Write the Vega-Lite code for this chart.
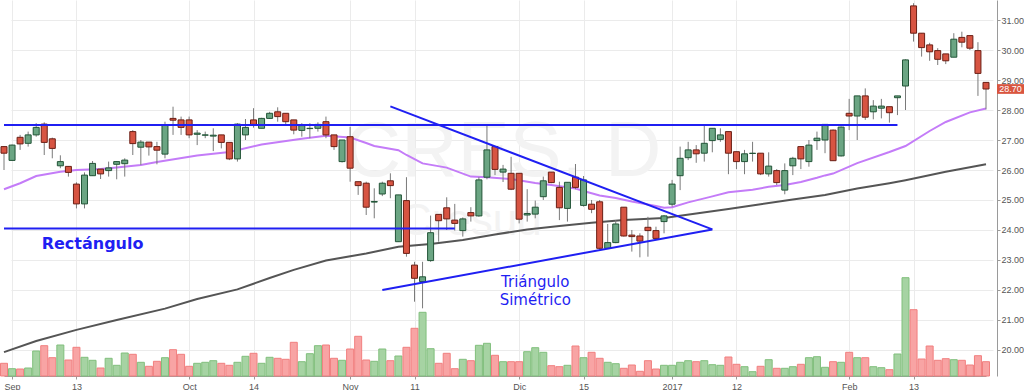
{
  "$schema": "https://vega.github.io/schema/vega-lite/v6.json",
  "width": 997,
  "height": 376,
  "padding": 0,
  "background": "white",
  "config": {"view": {"stroke": null}, "font": "Liberation Sans"},
  "datasets": {
    "ohlc": [
      {"d":"2016-08-31","o":26.78,"h":26.8,"l":26.0,"c":26.56,"v":127},
      {"d":"2016-09-01","o":26.32,"h":26.85,"l":26.3,"c":26.83,"v":73},
      {"d":"2016-09-02","o":27.09,"h":27.17,"l":26.67,"c":26.87,"v":70},
      {"d":"2016-09-05","o":26.89,"h":27.28,"l":26.78,"c":27.17,"v":80},
      {"d":"2016-09-06","o":27.17,"h":27.56,"l":27.11,"c":27.42,"v":250},
      {"d":"2016-09-07","o":27.53,"h":27.59,"l":26.5,"c":26.92,"v":303},
      {"d":"2016-09-08","o":27.04,"h":27.08,"l":26.39,"c":26.72,"v":183},
      {"d":"2016-09-09","o":26.14,"h":26.49,"l":26.06,"c":26.28,"v":310},
      {"d":"2016-09-12","o":26.12,"h":26.13,"l":25.78,"c":25.92,"v":160},
      {"d":"2016-09-13","o":25.53,"h":25.59,"l":24.72,"c":24.87,"v":287},
      {"d":"2016-09-14","o":24.87,"h":25.92,"l":24.72,"c":25.83,"v":187},
      {"d":"2016-09-15","o":25.81,"h":26.3,"l":25.8,"c":26.22,"v":157},
      {"d":"2016-09-16","o":26.03,"h":26.03,"l":25.7,"c":25.87,"v":80},
      {"d":"2016-09-19","o":25.98,"h":26.28,"l":25.78,"c":26.07,"v":177},
      {"d":"2016-09-20","o":26.19,"h":26.3,"l":25.69,"c":26.28,"v":107},
      {"d":"2016-09-21","o":26.21,"h":26.39,"l":25.78,"c":26.33,"v":230},
      {"d":"2016-09-22","o":27.28,"h":27.33,"l":26.5,"c":26.88,"v":217},
      {"d":"2016-09-23","o":26.76,"h":27.0,"l":26.17,"c":26.93,"v":137},
      {"d":"2016-09-26","o":26.93,"h":26.93,"l":26.48,"c":26.77,"v":97},
      {"d":"2016-09-27","o":26.78,"h":26.94,"l":26.19,"c":26.66,"v":147},
      {"d":"2016-09-28","o":26.53,"h":27.61,"l":26.39,"c":27.5,"v":183},
      {"d":"2016-09-29","o":27.72,"h":28.11,"l":27.17,"c":27.66,"v":263},
      {"d":"2016-09-30","o":27.67,"h":27.78,"l":27.17,"c":27.42,"v":217},
      {"d":"2016-10-03","o":27.67,"h":27.78,"l":27.06,"c":27.17,"v":97},
      {"d":"2016-10-04","o":27.19,"h":27.33,"l":26.83,"c":27.23,"v":127},
      {"d":"2016-10-05","o":27.16,"h":27.28,"l":27.06,"c":27.17,"v":137},
      {"d":"2016-10-06","o":27.13,"h":27.39,"l":26.63,"c":27.16,"v":153},
      {"d":"2016-10-07","o":27.17,"h":27.17,"l":26.72,"c":26.92,"v":127},
      {"d":"2016-10-11","o":26.92,"h":26.92,"l":26.33,"c":26.37,"v":107},
      {"d":"2016-10-12","o":26.37,"h":27.56,"l":26.28,"c":27.53,"v":137},
      {"d":"2016-10-13","o":27.17,"h":27.7,"l":27.0,"c":27.42,"v":197},
      {"d":"2016-10-14","o":27.67,"h":28.06,"l":27.41,"c":27.52,"v":227},
      {"d":"2016-10-17","o":27.39,"h":27.74,"l":27.39,"c":27.72,"v":127},
      {"d":"2016-10-18","o":27.72,"h":27.94,"l":27.7,"c":27.89,"v":187},
      {"d":"2016-10-19","o":27.94,"h":28.09,"l":27.61,"c":27.78,"v":177},
      {"d":"2016-10-20","o":27.89,"h":27.89,"l":27.5,"c":27.61,"v":167},
      {"d":"2016-10-21","o":27.67,"h":27.67,"l":27.19,"c":27.33,"v":337},
      {"d":"2016-10-24","o":27.32,"h":27.56,"l":27.11,"c":27.48,"v":143},
      {"d":"2016-10-25","o":27.38,"h":27.56,"l":27.06,"c":27.39,"v":223},
      {"d":"2016-10-26","o":27.39,"h":27.59,"l":27.28,"c":27.52,"v":303},
      {"d":"2016-10-27","o":27.61,"h":27.78,"l":27.06,"c":27.17,"v":310},
      {"d":"2016-10-28","o":27.17,"h":27.17,"l":26.67,"c":26.78,"v":177},
      {"d":"2016-10-31","o":26.28,"h":27.0,"l":26.25,"c":27.0,"v":157},
      {"d":"2016-11-01","o":27.11,"h":27.44,"l":25.61,"c":26.06,"v":270},
      {"d":"2016-11-02","o":25.61,"h":25.61,"l":25.17,"c":25.48,"v":397},
      {"d":"2016-11-03","o":25.56,"h":25.61,"l":24.5,"c":24.76,"v":160},
      {"d":"2016-11-04","o":24.93,"h":25.39,"l":24.39,"c":24.95,"v":147},
      {"d":"2016-11-07","o":25.2,"h":25.61,"l":25.13,"c":25.56,"v":270},
      {"d":"2016-11-08","o":25.64,"h":25.89,"l":25.06,"c":25.48,"v":153},
      {"d":"2016-11-09","o":23.61,"h":25.17,"l":23.6,"c":25.17,"v":200},
      {"d":"2016-11-10","o":24.98,"h":25.76,"l":23.11,"c":23.22,"v":287},
      {"d":"2016-11-11","o":22.83,"h":22.94,"l":21.61,"c":22.39,"v":477},
      {"d":"2016-11-14","o":22.28,"h":22.94,"l":21.39,"c":22.44,"v":637},
      {"d":"2016-11-15","o":22.98,"h":24.48,"l":22.94,"c":23.91,"v":273},
      {"d":"2016-11-16","o":24.52,"h":24.52,"l":23.61,"c":24.31,"v":127},
      {"d":"2016-11-17","o":24.74,"h":25.09,"l":24.0,"c":24.37,"v":227},
      {"d":"2016-11-18","o":24.33,"h":24.87,"l":23.98,"c":24.22,"v":73},
      {"d":"2016-11-21","o":23.98,"h":24.42,"l":23.78,"c":24.37,"v":167},
      {"d":"2016-11-22","o":24.58,"h":24.76,"l":24.28,"c":24.47,"v":153},
      {"d":"2016-11-23","o":24.47,"h":25.76,"l":24.44,"c":25.67,"v":307},
      {"d":"2016-11-24","o":25.76,"h":27.5,"l":25.69,"c":26.67,"v":327},
      {"d":"2016-11-25","o":26.78,"h":26.78,"l":25.83,"c":26.02,"v":207},
      {"d":"2016-11-29","o":25.93,"h":26.17,"l":25.6,"c":26.03,"v":143},
      {"d":"2016-11-30","o":25.89,"h":26.44,"l":25.33,"c":25.36,"v":143},
      {"d":"2016-12-01","o":25.89,"h":25.89,"l":24.22,"c":24.36,"v":143},
      {"d":"2016-12-02","o":24.5,"h":25.36,"l":24.28,"c":24.55,"v":243},
      {"d":"2016-12-05","o":24.53,"h":24.98,"l":24.39,"c":24.76,"v":283},
      {"d":"2016-12-06","o":25.11,"h":25.78,"l":25.0,"c":25.64,"v":237},
      {"d":"2016-12-07","o":25.93,"h":25.93,"l":25.56,"c":25.58,"v":103},
      {"d":"2016-12-12","o":25.42,"h":25.61,"l":24.33,"c":24.74,"v":93},
      {"d":"2016-12-13","o":24.72,"h":25.59,"l":24.28,"c":25.59,"v":107},
      {"d":"2016-12-14","o":25.76,"h":26.2,"l":25.36,"c":25.42,"v":300},
      {"d":"2016-12-15","o":24.82,"h":25.8,"l":24.78,"c":25.67,"v":183},
      {"d":"2016-12-16","o":24.86,"h":25.0,"l":24.56,"c":24.69,"v":237},
      {"d":"2016-12-19","o":24.94,"h":25.0,"l":23.33,"c":23.39,"v":177},
      {"d":"2016-12-20","o":23.39,"h":24.2,"l":23.38,"c":23.58,"v":137},
      {"d":"2016-12-21","o":23.58,"h":24.33,"l":23.56,"c":24.2,"v":123},
      {"d":"2016-12-22","o":24.76,"h":24.76,"l":23.78,"c":23.8,"v":77},
      {"d":"2016-12-23","o":23.83,"h":24.0,"l":23.28,"c":23.78,"v":110},
      {"d":"2016-12-27","o":23.8,"h":23.89,"l":23.09,"c":23.63,"v":47},
      {"d":"2016-12-28","o":24.09,"h":24.44,"l":23.11,"c":23.98,"v":153},
      {"d":"2016-12-29","o":23.98,"h":24.11,"l":23.69,"c":23.72,"v":70},
      {"d":"2016-12-30","o":24.28,"h":24.5,"l":23.89,"c":24.47,"v":107},
      {"d":"2017-01-02","o":24.86,"h":25.67,"l":24.78,"c":25.53,"v":107},
      {"d":"2017-01-03","o":25.81,"h":26.78,"l":25.33,"c":26.39,"v":137},
      {"d":"2017-01-04","o":26.41,"h":26.94,"l":26.33,"c":26.67,"v":153},
      {"d":"2017-01-05","o":26.67,"h":26.83,"l":26.24,"c":26.54,"v":143},
      {"d":"2017-01-06","o":26.56,"h":27.48,"l":26.28,"c":26.89,"v":153},
      {"d":"2017-01-09","o":26.98,"h":27.39,"l":26.59,"c":27.39,"v":113},
      {"d":"2017-01-10","o":27.02,"h":27.39,"l":26.94,"c":27.17,"v":107},
      {"d":"2017-01-11","o":27.28,"h":27.28,"l":25.86,"c":26.56,"v":190},
      {"d":"2017-01-12","o":26.61,"h":26.61,"l":26.03,"c":26.28,"v":117},
      {"d":"2017-01-13","o":26.28,"h":26.67,"l":25.86,"c":26.54,"v":93},
      {"d":"2017-01-16","o":26.55,"h":26.94,"l":26.28,"c":26.56,"v":43},
      {"d":"2017-01-17","o":26.56,"h":26.56,"l":25.83,"c":25.87,"v":97},
      {"d":"2017-01-18","o":25.87,"h":26.59,"l":25.78,"c":26.13,"v":163},
      {"d":"2017-01-19","o":25.98,"h":26.03,"l":25.5,"c":25.58,"v":77},
      {"d":"2017-01-20","o":25.33,"h":26.22,"l":25.19,"c":25.98,"v":77},
      {"d":"2017-01-23","o":26.14,"h":26.44,"l":25.83,"c":26.39,"v":93},
      {"d":"2017-01-24","o":26.78,"h":26.78,"l":26.03,"c":26.37,"v":117},
      {"d":"2017-01-25","o":26.28,"h":27.0,"l":26.11,"c":26.83,"v":183},
      {"d":"2017-01-26","o":26.98,"h":27.28,"l":26.67,"c":27.06,"v":193},
      {"d":"2017-01-27","o":27.0,"h":27.52,"l":26.56,"c":27.52,"v":87},
      {"d":"2017-01-30","o":27.33,"h":27.35,"l":26.3,"c":26.31,"v":143},
      {"d":"2017-01-31","o":26.47,"h":27.45,"l":26.45,"c":27.43,"v":137},
      {"d":"2017-02-01","o":27.89,"h":28.37,"l":27.33,"c":27.8,"v":237},
      {"d":"2017-02-02","o":27.8,"h":28.47,"l":27.0,"c":28.47,"v":183},
      {"d":"2017-02-03","o":28.47,"h":28.72,"l":27.67,"c":27.76,"v":183},
      {"d":"2017-02-06","o":27.94,"h":28.33,"l":27.69,"c":28.13,"v":93},
      {"d":"2017-02-07","o":28.06,"h":28.37,"l":27.72,"c":28.13,"v":83},
      {"d":"2017-02-08","o":28.11,"h":28.11,"l":27.58,"c":27.91,"v":63},
      {"d":"2017-02-09","o":28.41,"h":28.47,"l":27.83,"c":28.47,"v":220},
      {"d":"2017-02-10","o":28.8,"h":29.69,"l":28.0,"c":29.67,"v":983},
      {"d":"2017-02-13","o":31.47,"h":31.56,"l":30.28,"c":30.56,"v":663},
      {"d":"2017-02-14","o":30.56,"h":30.56,"l":29.78,"c":30.08,"v":170},
      {"d":"2017-02-15","o":30.17,"h":30.24,"l":29.64,"c":29.94,"v":300},
      {"d":"2017-02-16","o":29.98,"h":30.06,"l":29.5,"c":29.69,"v":157},
      {"d":"2017-02-17","o":29.87,"h":29.87,"l":29.53,"c":29.64,"v":173},
      {"d":"2017-02-20","o":29.76,"h":30.56,"l":29.76,"c":30.36,"v":163},
      {"d":"2017-02-21","o":30.42,"h":30.61,"l":30.09,"c":30.26,"v":157},
      {"d":"2017-02-22","o":30.48,"h":30.48,"l":30.0,"c":30.06,"v":110},
      {"d":"2017-02-23","o":29.98,"h":30.26,"l":28.47,"c":29.22,"v":203},
      {"d":"2017-02-24","o":28.92,"h":28.92,"l":28.02,"c":28.7,"v":143}
    ],
    "sma20": [
      {"d":"2016-08-31","m":25.36},{"d":"2016-09-02","m":25.56},{"d":"2016-09-06","m":25.8},
      {"d":"2016-09-09","m":25.94},{"d":"2016-09-13","m":26.0},{"d":"2016-09-16","m":26.03},
      {"d":"2016-09-20","m":26.08},{"d":"2016-09-23","m":26.17},{"d":"2016-09-27","m":26.27},
      {"d":"2016-10-04","m":26.48},{"d":"2016-10-11","m":26.6},{"d":"2016-10-17","m":26.85},
      {"d":"2016-10-24","m":27.04},{"d":"2016-10-27","m":27.14},{"d":"2016-11-01","m":27.08},
      {"d":"2016-11-03","m":26.9},{"d":"2016-11-04","m":26.8},{"d":"2016-11-09","m":26.66},
      {"d":"2016-11-10","m":26.5},{"d":"2016-11-14","m":26.22},{"d":"2016-11-17","m":26.08},
      {"d":"2016-11-22","m":25.78},{"d":"2016-11-24","m":25.76},{"d":"2016-11-30","m":25.7},
      {"d":"2016-12-05","m":25.57},{"d":"2016-12-07","m":25.5},{"d":"2016-12-14","m":25.38},
      {"d":"2016-12-15","m":25.3},{"d":"2016-12-19","m":25.15},{"d":"2016-12-21","m":25.07},
      {"d":"2016-12-23","m":24.95},{"d":"2016-12-29","m":24.8},{"d":"2016-12-30","m":24.74},
      {"d":"2017-01-02","m":24.76},{"d":"2017-01-04","m":24.92},{"d":"2017-01-09","m":25.12},
      {"d":"2017-01-11","m":25.26},{"d":"2017-01-16","m":25.34},{"d":"2017-01-18","m":25.44},
      {"d":"2017-01-20","m":25.5},{"d":"2017-01-24","m":25.6},{"d":"2017-01-26","m":25.74},
      {"d":"2017-01-27","m":25.82},{"d":"2017-01-30","m":25.88},{"d":"2017-02-02","m":26.23},
      {"d":"2017-02-08","m":26.6},{"d":"2017-02-10","m":26.8},{"d":"2017-02-15","m":27.3},
      {"d":"2017-02-17","m":27.6},{"d":"2017-02-22","m":27.92},{"d":"2017-02-24","m":28.05}
    ],
    "sma200": [
      {"d":"2016-08-31","m":19.93},{"d":"2016-09-06","m":20.3},{"d":"2016-09-13","m":20.67},
      {"d":"2016-09-20","m":21.0},{"d":"2016-09-28","m":21.38},{"d":"2016-10-04","m":21.7},
      {"d":"2016-10-12","m":22.02},{"d":"2016-10-18","m":22.4},{"d":"2016-10-21","m":22.67},
      {"d":"2016-10-27","m":22.98},{"d":"2016-11-03","m":23.22},{"d":"2016-11-09","m":23.44},
      {"d":"2016-11-15","m":23.53},{"d":"2016-11-21","m":23.67},{"d":"2016-11-25","m":23.85},
      {"d":"2016-12-02","m":24.02},{"d":"2016-12-12","m":24.13},{"d":"2016-12-16","m":24.24},
      {"d":"2016-12-22","m":24.33},{"d":"2016-12-30","m":24.4},{"d":"2017-01-05","m":24.55},
      {"d":"2017-01-11","m":24.7},{"d":"2017-01-17","m":24.86},{"d":"2017-01-23","m":25.02},
      {"d":"2017-01-27","m":25.17},{"d":"2017-02-02","m":25.38},{"d":"2017-02-08","m":25.56},
      {"d":"2017-02-10","m":25.66},{"d":"2017-02-17","m":25.94},{"d":"2017-02-24","m":26.19}
    ],
    "lines": [
      {"d1":"2016-08-31","d2":"2017-02-09","p1":27.5,"p2":27.5},
      {"d1":"2016-08-31","d2":"2016-11-18","p1":24.05,"p2":24.05},
      {"d1":"2016-11-08","d2":"2017-01-09","p1":28.12,"p2":24.02},
      {"d1":"2016-11-07","d2":"2017-01-09","p1":22.0,"p2":24.02}
    ]
  },
  "resolve": {"scale": {"y": "independent"}},
  "layer": [
    {
      "data": {"name": "ohlc"},
      "mark": {"type": "bar", "width": 7, "strokeWidth": 1},
      "encoding": {
        "x": {
          "field": "d", "type": "ordinal", "title": null,
          "scale": {"type": "point", "range": [4, 986], "padding": 0},
          "axis": {
            "title": null,
            "values": ["2016-09-01","2016-09-13","2016-10-03","2016-10-14","2016-11-01","2016-11-11","2016-12-01","2016-12-15","2017-01-02","2017-01-12","2017-02-01","2017-02-13"],
            "labelExpr": "datum.value == '2017-01-02' ? '2017' : (slice(datum.value, 8) <= '03' ? ['Ene','Feb','Mar','Abr','May','Jun','Jul','Ago','Sep','Oct','Nov','Dic'][toNumber(slice(datum.value, 5, 7)) - 1] : toString(toNumber(slice(datum.value, 8))))",
            "labelAngle": 0,
            "grid": true, "gridColor": "#ebebeb",
            "domainColor": "#9a9a9a", "tickColor": "#9a9a9a", "tickSize": 3,
            "labelColor": "#555555", "labelFontSize": 9, "labelPadding": 3
          }
        },
        "y": {"field": "v", "type": "quantitative", "scale": {"domain": [0, 3760], "nice": false, "zero": true}, "axis": null},
        "fill": {"condition": {"test": "datum.c >= datum.o", "value": "#a6d3a3"}, "value": "#f8a4a4"},
        "stroke": {"condition": {"test": "datum.c >= datum.o", "value": "#80bf7c"}, "value": "#f17f7f"}
      }
    },
    {
      "layer": [
        {
          "data": {"values": [{"d": "2016-11-29", "p": 26.57, "t": "CRES, D"}]},
          "mark": {"type": "text", "fontSize": 78, "color": "#f3f3f3", "align": "center", "baseline": "middle"},
          "encoding": {
            "x": {"field": "d", "type": "ordinal", "title": null},
            "y": {"field": "p", "type": "quantitative", "title": null, "scale": {"domain": [19.1333, 31.6667], "nice": false, "zero": false},
              "axis": {"orient": "right", "title": null, "values": [20,21,22,23,24,25,26,27,28,29,30,31], "format": ".2f", "grid": true, "gridColor": "#ebebeb", "domainColor": "#9a9a9a", "tickColor": "#9a9a9a", "tickSize": 3, "labelColor": "#555555", "labelFontSize": 9, "labelPadding": 1}},
            "text": {"field": "t"}
          }
        },
        {
          "data": {"values": [{"d": "2016-11-22", "p": 24.27, "t": "Cresud"}]},
          "mark": {"type": "text", "fontSize": 44, "color": "#f3f3f3", "align": "center", "baseline": "middle"},
          "encoding": {
            "x": {"field": "d", "type": "ordinal", "title": null},
            "y": {"field": "p", "type": "quantitative", "title": null, "scale": {"domain": [19.1333, 31.6667], "nice": false, "zero": false},
              "axis": {"orient": "right", "title": null, "values": [20,21,22,23,24,25,26,27,28,29,30,31], "format": ".2f", "grid": true, "gridColor": "#ebebeb", "domainColor": "#9a9a9a", "tickColor": "#9a9a9a", "tickSize": 3, "labelColor": "#555555", "labelFontSize": 9, "labelPadding": 1}},
            "text": {"field": "t"}
          }
        },
        {
          "data": {"name": "sma200"},
          "mark": {"type": "line", "color": "#555555", "strokeWidth": 2},
          "encoding": {
            "x": {"field": "d", "type": "ordinal", "title": null},
            "y": {"field": "m", "type": "quantitative", "title": null, "scale": {"domain": [19.1333, 31.6667], "nice": false, "zero": false},
              "axis": {"orient": "right", "title": null, "values": [20,21,22,23,24,25,26,27,28,29,30,31], "format": ".2f", "grid": true, "gridColor": "#ebebeb", "domainColor": "#9a9a9a", "tickColor": "#9a9a9a", "tickSize": 3, "labelColor": "#555555", "labelFontSize": 9, "labelPadding": 1}}
          }
        },
        {
          "data": {"name": "sma20"},
          "mark": {"type": "line", "color": "#c47cf8", "strokeWidth": 2},
          "encoding": {
            "x": {"field": "d", "type": "ordinal", "title": null},
            "y": {"field": "m", "type": "quantitative", "title": null, "scale": {"domain": [19.1333, 31.6667], "nice": false, "zero": false},
              "axis": {"orient": "right", "title": null, "values": [20,21,22,23,24,25,26,27,28,29,30,31], "format": ".2f", "grid": true, "gridColor": "#ebebeb", "domainColor": "#9a9a9a", "tickColor": "#9a9a9a", "tickSize": 3, "labelColor": "#555555", "labelFontSize": 9, "labelPadding": 1}}
          }
        },
        {
          "data": {"name": "ohlc"},
          "mark": {"type": "rule", "color": "#7a7a7a", "strokeWidth": 1},
          "encoding": {
            "x": {"field": "d", "type": "ordinal", "title": null},
            "y": {"field": "l", "type": "quantitative", "title": null, "scale": {"domain": [19.1333, 31.6667], "nice": false, "zero": false},
              "axis": {"orient": "right", "title": null, "values": [20,21,22,23,24,25,26,27,28,29,30,31], "format": ".2f", "grid": true, "gridColor": "#ebebeb", "domainColor": "#9a9a9a", "tickColor": "#9a9a9a", "tickSize": 3, "labelColor": "#555555", "labelFontSize": 9, "labelPadding": 1}},
            "y2": {"field": "h"}
          }
        },
        {
          "data": {"name": "ohlc"},
          "mark": {"type": "bar", "width": 6, "strokeWidth": 1},
          "encoding": {
            "x": {"field": "d", "type": "ordinal", "title": null},
            "y": {"field": "o", "type": "quantitative", "title": null, "scale": {"domain": [19.1333, 31.6667], "nice": false, "zero": false},
              "axis": {"orient": "right", "title": null, "values": [20,21,22,23,24,25,26,27,28,29,30,31], "format": ".2f", "grid": true, "gridColor": "#ebebeb", "domainColor": "#9a9a9a", "tickColor": "#9a9a9a", "tickSize": 3, "labelColor": "#555555", "labelFontSize": 9, "labelPadding": 1}},
            "y2": {"field": "c"},
            "fill": {"condition": {"test": "datum.c >= datum.o", "value": "#6ba583"}, "value": "#d75442"},
            "stroke": {"condition": {"test": "datum.c >= datum.o", "value": "#225437"}, "value": "#6b1f15"}
          }
        },
        {
          "data": {"name": "lines"},
          "mark": {"type": "rule", "color": "#1f1ff2", "strokeWidth": 2},
          "encoding": {
            "x": {"field": "d1", "type": "ordinal", "title": null},
            "x2": {"field": "d2"},
            "y": {"field": "p1", "type": "quantitative", "title": null, "scale": {"domain": [19.1333, 31.6667], "nice": false, "zero": false},
              "axis": {"orient": "right", "title": null, "values": [20,21,22,23,24,25,26,27,28,29,30,31], "format": ".2f", "grid": true, "gridColor": "#ebebeb", "domainColor": "#9a9a9a", "tickColor": "#9a9a9a", "tickSize": 3, "labelColor": "#555555", "labelFontSize": 9, "labelPadding": 1}},
            "y2": {"field": "p2"}
          }
        },
        {
          "data": {"values": [{"d": "2016-09-15", "p": 23.53, "t": "Rectángulo"}]},
          "mark": {"type": "text", "font": "DejaVu Sans", "fontSize": 16, "fontWeight": "bold", "color": "#1f1ff2", "align": "center", "baseline": "middle"},
          "encoding": {
            "x": {"field": "d", "type": "ordinal", "title": null},
            "y": {"field": "p", "type": "quantitative", "title": null, "scale": {"domain": [19.1333, 31.6667], "nice": false, "zero": false},
              "axis": {"orient": "right", "title": null, "values": [20,21,22,23,24,25,26,27,28,29,30,31], "format": ".2f", "grid": true, "gridColor": "#ebebeb", "domainColor": "#9a9a9a", "tickColor": "#9a9a9a", "tickSize": 3, "labelColor": "#555555", "labelFontSize": 9, "labelPadding": 1}},
            "text": {"field": "t"}
          }
        },
        {
          "data": {"values": [{"d": "2016-12-05", "p": 22.25, "t": "Triángulo"}, {"d": "2016-12-05", "p": 21.66, "t": "Simétrico"}]},
          "mark": {"type": "text", "font": "DejaVu Sans", "fontSize": 15, "color": "#1f1ff2", "align": "center", "baseline": "middle"},
          "encoding": {
            "x": {"field": "d", "type": "ordinal", "title": null},
            "y": {"field": "p", "type": "quantitative", "title": null, "scale": {"domain": [19.1333, 31.6667], "nice": false, "zero": false},
              "axis": {"orient": "right", "title": null, "values": [20,21,22,23,24,25,26,27,28,29,30,31], "format": ".2f", "grid": true, "gridColor": "#ebebeb", "domainColor": "#9a9a9a", "tickColor": "#9a9a9a", "tickSize": 3, "labelColor": "#555555", "labelFontSize": 9, "labelPadding": 1}},
            "text": {"field": "t"}
          }
        },
        {
          "data": {"values": [{"d": "2017-02-24", "p": 28.7, "t": "28.70"}]},
          "mark": {"type": "point", "shape": "M-1,-0.36L1,-0.36L1,0.36L-1,0.36Z", "size": 729, "filled": true, "opacity": 1, "color": "#d9553f", "xOffset": 24.5},
          "encoding": {
            "x": {"field": "d", "type": "ordinal", "title": null},
            "y": {"field": "p", "type": "quantitative", "title": null, "scale": {"domain": [19.1333, 31.6667], "nice": false, "zero": false},
              "axis": {"orient": "right", "title": null, "values": [20,21,22,23,24,25,26,27,28,29,30,31], "format": ".2f", "grid": true, "gridColor": "#ebebeb", "domainColor": "#9a9a9a", "tickColor": "#9a9a9a", "tickSize": 3, "labelColor": "#555555", "labelFontSize": 9, "labelPadding": 1}}
          }
        },
        {
          "data": {"values": [{"d": "2017-02-24", "p": 28.7, "t": "28.70"}]},
          "mark": {"type": "text", "fontSize": 9, "color": "white", "align": "center", "baseline": "middle", "dx": 24.5},
          "encoding": {
            "x": {"field": "d", "type": "ordinal", "title": null},
            "y": {"field": "p", "type": "quantitative", "title": null, "scale": {"domain": [19.1333, 31.6667], "nice": false, "zero": false},
              "axis": {"orient": "right", "title": null, "values": [20,21,22,23,24,25,26,27,28,29,30,31], "format": ".2f", "grid": true, "gridColor": "#ebebeb", "domainColor": "#9a9a9a", "tickColor": "#9a9a9a", "tickSize": 3, "labelColor": "#555555", "labelFontSize": 9, "labelPadding": 1}},
            "text": {"field": "t"}
          }
        }
      ]
    }
  ]
}
